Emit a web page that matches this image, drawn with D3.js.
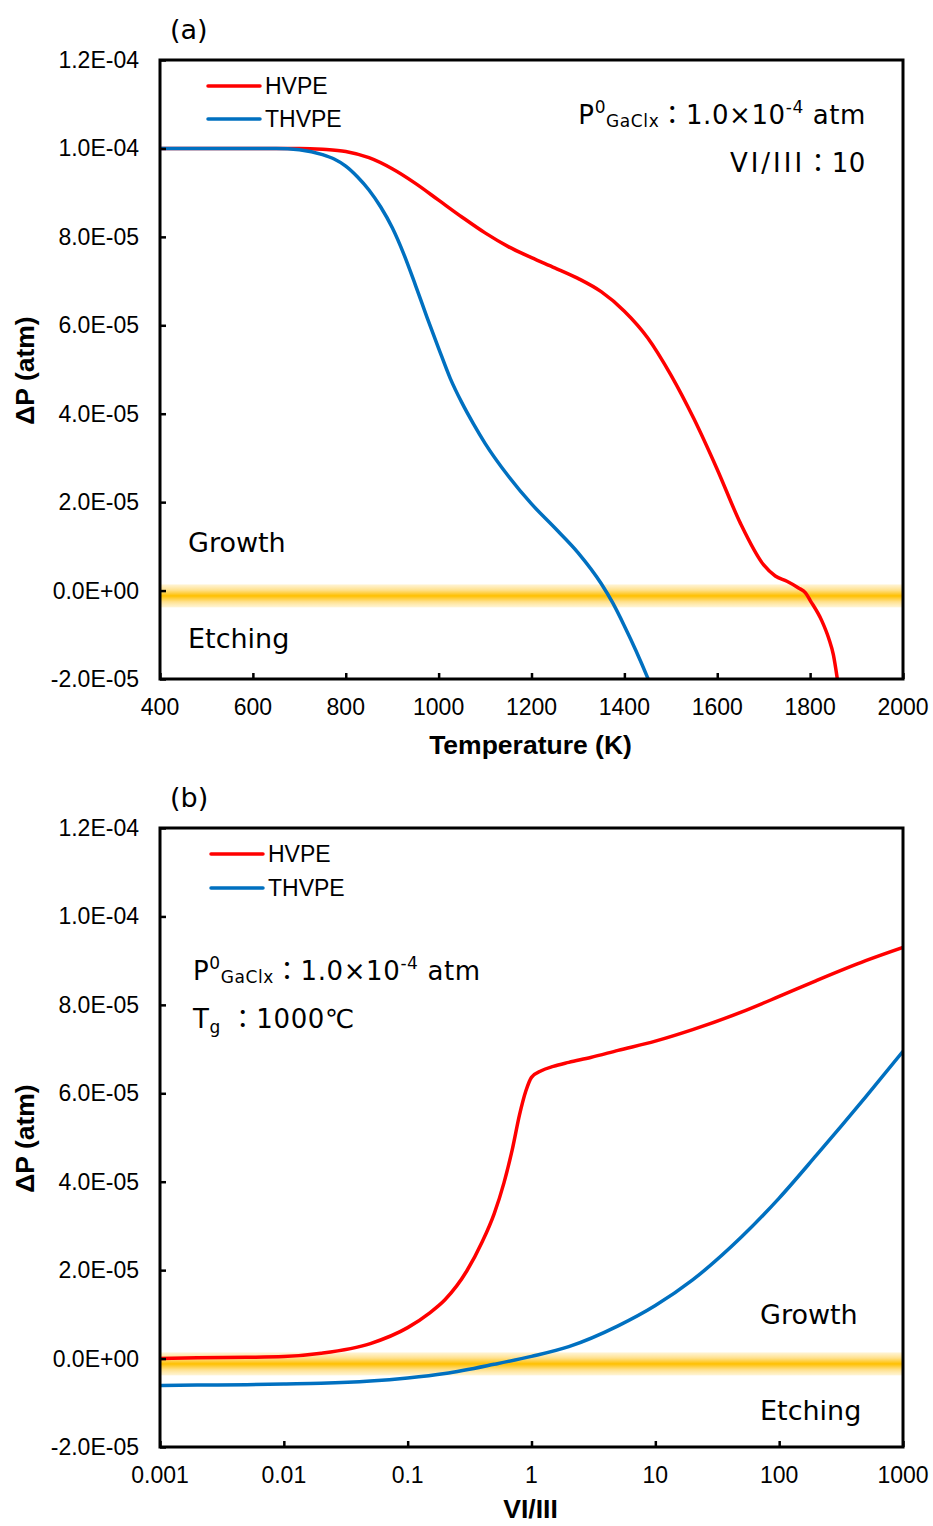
<!DOCTYPE html>
<html>
<head>
<meta charset="utf-8">
<script src="https://cdn.jsdelivr.net/npm/d3@7"></script>
<style>
  html, body { margin: 0; padding: 0; background: #fff; }
  svg { display: block; }
</style>
</head>
<body>
<svg id="chart" width="933" height="1526"></svg>
<script>
// ---------------- DATA ----------------
const seriesNames = ["HVPE", "THVPE"];
const seriesColors = ["#FF0000", "#0070C0"];

// Panel (a): temperature (K) vs ΔP (atm), VI/III = 10
const tempA = [400, 500, 600, 700, 750, 800, 850, 900, 950, 1000, 1050, 1100, 1150, 1200, 1250, 1300, 1350, 1400, 1450, 1500, 1550, 1600, 1650, 1700, 1725, 1750, 1775, 1790, 1800, 1825, 1840, 1850, 1860];
const hvpeA = [10.0e-5, 10.0e-5, 10.0e-5, 10.0e-5, 9.98e-5, 9.93e-5, 9.79e-5, 9.54e-5, 9.21e-5, 8.83e-5, 8.45e-5, 8.09e-5, 7.78e-5, 7.53e-5, 7.30e-5, 7.06e-5, 6.76e-5, 6.32e-5, 5.72e-5, 4.88e-5, 3.88e-5, 2.74e-5, 1.52e-5, 0.58e-5, 0.33e-5, 0.21e-5, 0.06e-5, -0.05e-5, -0.22e-5, -0.68e-5, -1.08e-5, -1.45e-5, -2.10e-5];

const tempA2 = [400, 500, 600, 650, 700, 750, 775, 800, 825, 850, 875, 900, 925, 950, 975, 1000, 1025, 1050, 1075, 1100, 1150, 1200, 1250, 1300, 1350, 1375, 1400, 1425, 1450, 1455];
const thvpeA = [10.0e-5, 10.0e-5, 10.0e-5, 10.0e-5, 9.97e-5, 9.86e-5, 9.76e-5, 9.60e-5, 9.36e-5, 9.06e-5, 8.68e-5, 8.21e-5, 7.61e-5, 6.91e-5, 6.18e-5, 5.48e-5, 4.80e-5, 4.25e-5, 3.77e-5, 3.33e-5, 2.59e-5, 1.96e-5, 1.42e-5, 0.86e-5, 0.16e-5, -0.28e-5, -0.80e-5, -1.36e-5, -1.97e-5, -2.10e-5];

// Panel (b): VI/III ratio vs ΔP (atm), Tg = 1000 ℃
const ratioB = [0.001, 0.002, 0.005, 0.01, 0.02, 0.05, 0.1, 0.15, 0.2, 0.3, 0.4, 0.5, 0.6, 0.7, 0.8, 0.9, 1.0, 1.2, 1.5, 2, 3, 5, 10, 20, 50, 100, 200, 500, 1000];
const hvpeB = [0.0e-5, 0.02e-5, 0.03e-5, 0.045e-5, 0.12e-5, 0.34e-5, 0.70e-5, 1.03e-5, 1.33e-5, 1.98e-5, 2.64e-5, 3.28e-5, 3.98e-5, 4.73e-5, 5.51e-5, 6.05e-5, 6.36e-5, 6.51e-5, 6.61e-5, 6.70e-5, 6.81e-5, 6.97e-5, 7.18e-5, 7.44e-5, 7.84e-5, 8.19e-5, 8.55e-5, 9.00e-5, 9.30e-5];

const ratioB2 = [0.001, 0.002, 0.005, 0.01, 0.02, 0.05, 0.1, 0.2, 0.5, 1, 2, 5, 10, 20, 50, 100, 200, 500, 1000];
const thvpeB = [-0.61e-5, -0.60e-5, -0.59e-5, -0.575e-5, -0.56e-5, -0.51e-5, -0.44e-5, -0.34e-5, -0.13e-5, 0.05e-5, 0.27e-5, 0.74e-5, 1.20e-5, 1.78e-5, 2.76e-5, 3.63e-5, 4.60e-5, 5.92e-5, 6.95e-5];

// Axis ticks
const yTicks = [-2e-5, 0, 2e-5, 4e-5, 6e-5, 8e-5, 10e-5, 12e-5];
const xTicksA = [400, 600, 800, 1000, 1200, 1400, 1600, 1800, 2000];
const xTicksB = [0.001, 0.01, 0.1, 1, 10, 100, 1000];
const xTickLabelsB = ["0.001", "0.01", "0.1", "1", "10", "100", "1000"];

// ---------------- DRAW ----------------
const svg = d3.select("#chart");
const tickFont = "'Liberation Sans', Arial, sans-serif";
const annFont = "'DejaVu Sans', Verdana, 'Noto Sans CJK JP', sans-serif";

function sci(v) {
  if (v === 0) return "0.0E+00";
  const e = Math.floor(Math.log10(Math.abs(v)) + 1e-9);
  const m = v / Math.pow(10, e);
  const ae = Math.abs(e);
  return m.toFixed(1) + "E" + (e < 0 ? "-" : "+") + (ae < 10 ? "0" : "") + ae;
}

// gradient for the zero band
const defs = svg.append("defs");
const grad = defs.append("linearGradient").attr("id", "band").attr("x1", 0).attr("x2", 0).attr("y1", 0).attr("y2", 1);
[[0, "#FFF2CC", 0.8], [0.25, "#FFE08A", 1], [0.5, "#FFC000", 1], [0.75, "#FFE08A", 1], [1, "#FFF2CC", 0.8]].forEach(s =>
  grad.append("stop").attr("offset", s[0]).attr("stop-color", s[1]).attr("stop-opacity", s[2]));

function panel(cfg) {
  const { left, right, top, bottom, x, id } = cfg;
  const y = d3.scaleLinear().domain([-2e-5, 12e-5]).range([bottom, top]);
  const g = svg.append("g");

  defs.append("clipPath").attr("id", "clip" + id).append("rect")
    .attr("x", left).attr("y", top).attr("width", right - left).attr("height", bottom - top);

  // zero band (slightly below zero line as in original)
  g.append("rect").attr("x", left).attr("width", right - left)
    .attr("y", y(0.14e-5)).attr("height", y(-0.38e-5) - y(0.14e-5))
    .attr("fill", "url(#band)");

  // lines
  const plot = g.append("g").attr("clip-path", `url(#clip${id})`);
  cfg.series.forEach((s, i) => {
    const pts = s.xs.map((xv, k) => [xv, s.ys[k]]);
    plot.append("path").datum(pts)
      .attr("fill", "none").attr("stroke", seriesColors[i]).attr("stroke-width", 3.5)
      .attr("stroke-linejoin", "round")
      .attr("d", d3.line().x(d => x(d[0])).y(d => y(d[1])).curve(d3.curveMonotoneX));
  });

  // y axis
  const yAxis = g.append("g").attr("transform", `translate(${left},0)`)
    .call(d3.axisRight(y).tickValues(yTicks).tickSize(6).tickFormat(""));
  yAxis.select(".domain").remove();
  yAxis.selectAll("line").attr("stroke", "#000").attr("stroke-width", 2.5);
  g.selectAll(null).data(yTicks).enter().append("text")
    .attr("x", left - 21).attr("y", d => y(d)).attr("dy", "0.35em")
    .attr("text-anchor", "end").attr("font-family", tickFont).attr("font-size", 23)
    .text(sci);

  // x axis
  const xAxis = g.append("g").attr("transform", `translate(0,${bottom})`)
    .call(d3.axisTop(x).tickValues(cfg.xTicks).tickSize(6).tickFormat(""));
  xAxis.select(".domain").remove();
  xAxis.selectAll("line").attr("stroke", "#000").attr("stroke-width", 2.5);
  g.selectAll(null).data(cfg.xTicks).enter().append("text")
    .attr("x", d => x(d)).attr("y", bottom + 36)
    .attr("text-anchor", "middle").attr("font-family", tickFont).attr("font-size", 23)
    .text((d, i) => cfg.xLabels[i]);

  // frame
  g.append("rect").attr("x", left).attr("y", top).attr("width", right - left).attr("height", bottom - top)
    .attr("fill", "none").attr("stroke", "#000").attr("stroke-width", 3);

  // axis titles
  g.append("text").attr("x", (left + right) / 2 - 1).attr("y", bottom + cfg.xTitleOffset)
    .attr("text-anchor", "middle").attr("font-family", tickFont).attr("font-weight", "bold").attr("font-size", 26.5)
    .text(cfg.xTitle);
  g.append("text").attr("transform", `translate(34,${(top + bottom) / 2 + 1}) rotate(-90)`)
    .attr("text-anchor", "middle").attr("font-family", tickFont).attr("font-weight", "bold").attr("font-size", 26.5)
    .text("ΔP (atm)");

  // panel label
  g.append("text").attr("x", left + 10).attr("y", top - 21).attr("font-family", annFont).attr("font-size", 27)
    .text(cfg.label);

  // legend
  seriesNames.forEach((n, i) => {
    const ly = cfg.legendY + i * cfg.legendGap;
    g.append("line").attr("x1", cfg.legendX).attr("x2", cfg.legendX + 52).attr("y1", ly).attr("y2", ly)
      .attr("stroke", seriesColors[i]).attr("stroke-width", 3.5).attr("stroke-linecap", "round");
    g.append("text").attr("x", cfg.legendX + 57).attr("y", ly).attr("dy", "0.36em")
      .attr("font-family", tickFont).attr("font-size", 23).text(n);
  });

  // growth / etching
  cfg.regions.forEach(r => {
    g.append("text").attr("x", r.x).attr("y", r.y).attr("font-family", annFont).attr("font-size", 27).text(r.t);
  });
  return { g, y };
}

// ---- Panel (a)
const xA = d3.scaleLinear().domain([400, 2000]).range([160, 903]);
panel({
  id: "a", left: 160, right: 903, top: 60, bottom: 679, x: xA,
  xTicks: xTicksA, xLabels: xTicksA.map(String), xTitle: "Temperature (K)", xTitleOffset: 75, label: "(a)",
  series: [{ xs: tempA, ys: hvpeA }, { xs: tempA2, ys: thvpeA }],
  legendX: 208, legendY: 86, legendGap: 33,
  regions: [{ x: 188, y: 552, t: "Growth" }, { x: 188, y: 648, t: "Etching" }]
});

// ---- Panel (b)
const xB = d3.scaleLog().domain([0.001, 1000]).range([160, 903]);
panel({
  id: "b", left: 160, right: 903, top: 828, bottom: 1447, x: xB,
  xTicks: xTicksB, xLabels: xTickLabelsB, xTitle: "VI/III", xTitleOffset: 71, label: "(b)",
  series: [{ xs: ratioB, ys: hvpeB }, { xs: ratioB2, ys: thvpeB }],
  legendX: 211, legendY: 854, legendGap: 34,
  regions: [{ x: 760, y: 1324, t: "Growth" }, { x: 760, y: 1420, t: "Etching" }]
});

// ---- Annotations
function pLine(x, yb, anchor) {
  const t = svg.append("text").attr("x", x).attr("y", yb).attr("text-anchor", anchor)
    .attr("font-family", annFont).attr("font-size", 26).attr("letter-spacing", 0.6);
  t.append("tspan").text("P");
  t.append("tspan").attr("font-size", 17).attr("dy", -11).text("0");
  t.append("tspan").attr("font-size", 17).attr("dy", 14).text("GaClx");
  t.append("tspan").attr("dy", -3).text("：1.0×10");
  t.append("tspan").attr("font-size", 17).attr("dy", -11).text("-4");
  t.append("tspan").attr("dy", 11).text(" atm");
}
pLine(866, 124, "end");
svg.append("text").attr("x", 866).attr("y", 172).attr("text-anchor", "end")
  .attr("font-family", annFont).attr("font-size", 26).attr("letter-spacing", 0.6)
  .html('<tspan letter-spacing="3">VI/III</tspan>：10');

pLine(193, 980, "start");
const tg = svg.append("text").attr("x", 193).attr("y", 1028)
  .attr("font-family", annFont).attr("font-size", 26).attr("letter-spacing", 0.6);
tg.append("tspan").text("T");
tg.append("tspan").attr("font-size", 17).attr("dy", 5).text("g");
tg.append("tspan").attr("dy", -5).text(" ：1000℃");
</script>
</body>
</html>
